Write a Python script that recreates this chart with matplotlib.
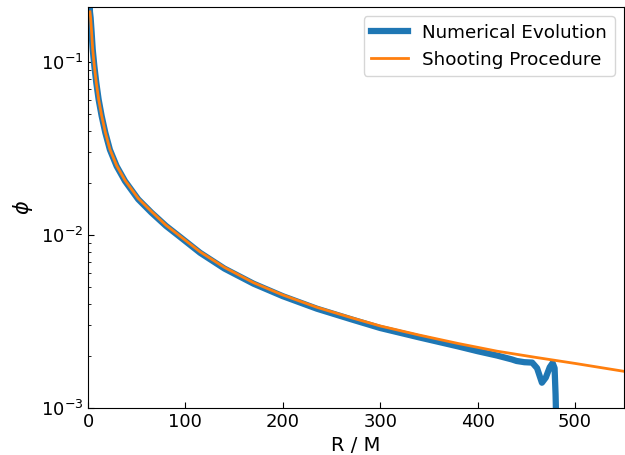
import matplotlib
matplotlib.use("Agg")
import matplotlib.pyplot as plt

# scalar field profile phi(R), R in units of M
r_shoot = [2, 2.7, 3.7, 4.8, 6.5, 8.5, 10.9, 14, 17.8, 22.5, 29.4, 38, 51.5,
           65, 80, 95, 115, 140, 170, 200, 235, 270, 300, 340, 380, 420,
           460, 500, 550]
phi_shoot = [0.195, 0.18, 0.149, 0.119, 0.095, 0.076, 0.061, 0.049, 0.0392,
             0.0313, 0.0252, 0.0207, 0.0163, 0.0137, 0.0114, 0.0098, 0.0080,
             0.0065, 0.0053, 0.0045, 0.00382, 0.00333, 0.00298, 0.00264,
             0.00236, 0.00213, 0.00196, 0.00181, 0.00163]

r_evol = [0.5, 1, 2, 2.7, 3.7, 4.8, 6.5, 8.5, 10.9, 14, 17.8, 22.5, 29.4,
          38, 51.5, 65, 80, 95, 115, 140, 170, 200, 235, 270, 300, 340,
          380, 400, 420, 435, 440, 448, 456, 461, 466, 470, 474, 477, 479,
          480, 481]
phi_evol = [0.40, 0.30, 0.195, 0.18, 0.149, 0.119, 0.095, 0.076, 0.0608,
            0.0488, 0.0390, 0.0311, 0.0250, 0.0205, 0.0161, 0.0135, 0.0113,
            0.0097, 0.0079, 0.0064, 0.00523, 0.00443, 0.00375, 0.00326,
            0.00290, 0.00256, 0.00227, 0.00213, 0.00201, 0.00191, 0.00187,
            0.00184, 0.00183, 0.00170, 0.00140, 0.00150, 0.00172, 0.00182,
            0.00170, 0.00120, 0.00070]

fig = plt.figure(figsize=(6.25, 4.55), dpi=100)
ax = fig.add_axes([0.1408, 0.1033, 0.8572, 0.8813])

ax.plot(r_evol, phi_evol, color="#1f77b4", lw=4.5, label="Numerical Evolution")
ax.plot(r_shoot, phi_shoot, color="#ff7f0e", lw=2, label="Shooting Procedure")

ax.set_yscale("log")
ax.set_xlim(0, 550)
ax.set_ylim(1e-3, 0.208)
ax.set_xticks([0, 100, 200, 300, 400, 500])
ax.tick_params(axis="both", which="both", direction="in", labelsize=13)
ax.tick_params(axis="both", which="major", length=4)
ax.tick_params(axis="y", which="minor", length=2.5)

ax.set_xlabel("R / M", fontsize=14)
ax.set_ylabel(r"$\phi$", fontsize=15)
ax.legend(loc="upper right", fontsize=13.2)

fig.savefig("out.png", dpi=100)
